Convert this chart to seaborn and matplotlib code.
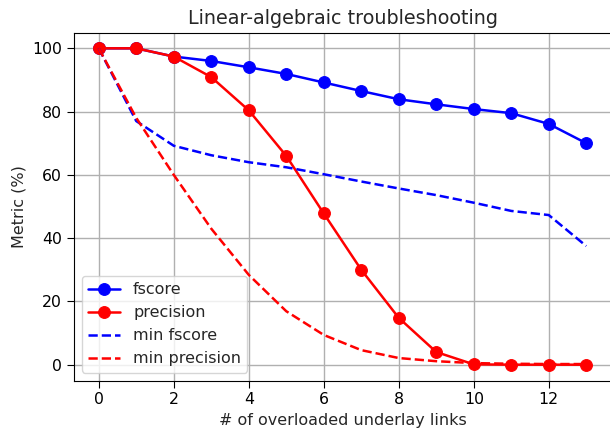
import matplotlib
matplotlib.use("Agg")
import matplotlib.pyplot as plt
import pandas as pd
import seaborn as sns

# 数据
links = list(range(14))
fscore = [100, 100, 97.4, 96.0, 94.0, 91.9, 89.2, 86.5, 83.9, 82.3, 80.8, 79.5, 76.1, 70.0]
precision = [100, 100, 97.4, 90.9, 80.4, 66.0, 47.8, 30.0, 14.8, 4.0, 0.1, 0.0, 0.0, 0.0]
min_fscore = [100, 77.0, 69.2, 66.2, 64.0, 62.4, 60.2, 57.9, 55.7, 53.6, 51.2, 48.6, 47.3, 37.5]
min_precision = [100, 78.0, 60.0, 43.0, 28.4, 16.9, 9.4, 4.6, 2.1, 1.1, 0.5, 0.3, 0.2, 0.2]

df = pd.DataFrame({"links": links, "fscore": fscore, "precision": precision,
                   "min fscore": min_fscore, "min precision": min_precision})

sns.set_style("ticks")
plt.rcParams["font.family"] = ["DejaVu Sans"]

fig = plt.figure(figsize=(6.1, 4.3), dpi=100)
# 坐标轴位置（右侧边框被裁掉）
ax = fig.add_axes([74 / 610, 1 - 380.5 / 430, 537 / 610, 348 / 430])

sns.lineplot(data=df, x="links", y="fscore", ax=ax, color="blue", marker="o",
             markersize=8.5, markeredgecolor="blue", linewidth=1.8, label="fscore")
sns.lineplot(data=df, x="links", y="precision", ax=ax, color="red", marker="o",
             markersize=8.5, markeredgecolor="red", linewidth=1.8, label="precision")
sns.lineplot(data=df, x="links", y="min fscore", ax=ax, color="blue", linestyle="--",
             linewidth=1.8, label="min fscore")
sns.lineplot(data=df, x="links", y="min precision", ax=ax, color="red", linestyle="--",
             linewidth=1.8, label="min precision")

ax.grid(True, color="#b0b0b0", linewidth=1)
ax.set_axisbelow(True)
ax.set_xticks(range(0, 14, 2))
ax.set_yticks(range(0, 101, 20))
ax.set_ylim(-5, 105)
ax.set_xlim(-0.66, 13.66)
for s in ax.spines.values():
    s.set_visible(True)
    s.set_color("black")
ax.tick_params(direction="out", length=5, colors="black", labelsize=11.3)
ax.set_xlabel("# of overloaded underlay links", fontsize=11.5)
ax.set_ylabel("Metric (%)", fontsize=11.5)
ax.set_title("Linear-algebraic troubleshooting", fontsize=13.8, pad=6)
ax.legend(loc="lower left", fontsize=11.5, handlelength=2)

plt.savefig("out.png", dpi=100)
